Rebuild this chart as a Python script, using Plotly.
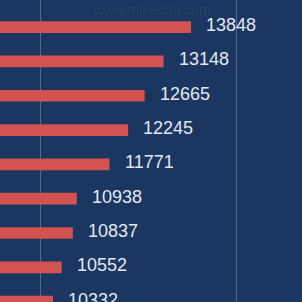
import plotly.graph_objects as go

ranks = ["No.1", "No.2", "No.3", "No.4", "No.5", "No.6", "No.7", "No.8", "No.9"]
values = [13848, 13148, 12665, 12245, 11771, 10938, 10837, 10552, 10332]

BG = "#1b3661"
BAR = "#d25350"
TXT = "#e3e8f0"

fig = go.Figure()
fig.add_trace(go.Bar(
    y=ranks, x=values, orientation="h",
    marker=dict(color=BAR, line=dict(width=0)),
    width=0.34,
    hoverinfo="skip",
))
for r, v in zip(ranks, values):
    fig.add_annotation(x=v, y=r, text=str(v), showarrow=False,
                       xanchor="left", yanchor="middle", xshift=13, yshift=2,
                       font=dict(family="Liberation Sans", size=18, color=TXT))

fig.add_annotation(x=0.3, y=1.0, xref="paper", yref="paper", text="www.mikecrm.com",
                   showarrow=False, yanchor="top", yshift=0,
                   font=dict(family="Liberation Sans", size=14, color="rgba(255,255,255,0.07)"))

fig.update_layout(
    width=302, height=302,
    margin=dict(l=0, r=0, t=0, b=0),
    paper_bgcolor=BG, plot_bgcolor=BG,
    showlegend=False,
    xaxis=dict(range=[8981, 16675], dtick=5000, tick0=0, showgrid=True,
               gridcolor="rgba(150,170,200,0.45)", gridwidth=1,
               showticklabels=False, zeroline=False, showline=False, ticks=""),
    yaxis=dict(range=[8.01, -0.79], type="category", categoryorder="array",
               categoryarray=ranks, showticklabels=False,
               showgrid=False, zeroline=False, showline=False, ticks=""),
)
fig.write_html("out.html")
